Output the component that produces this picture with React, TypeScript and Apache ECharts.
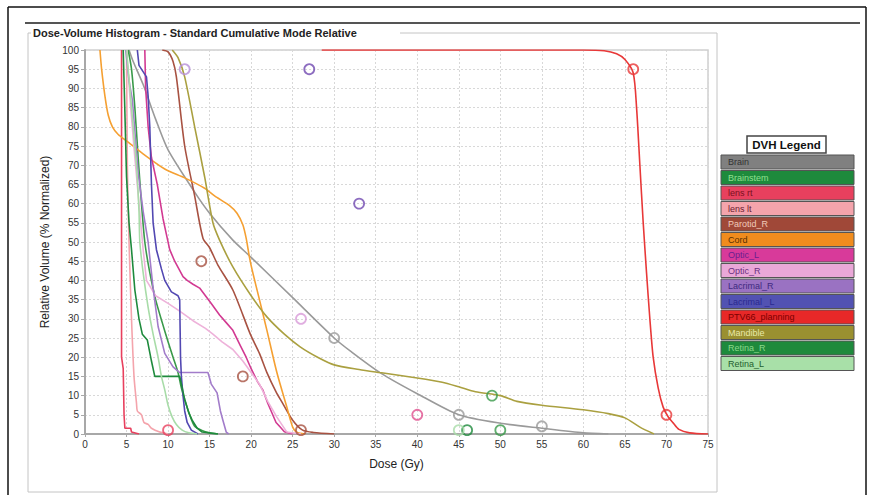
import React, { useEffect, useRef } from "react";
import * as echarts from "echarts";

// ---- Data (Dose in Gy, Relative Volume in %) ----
const structureNames = [
  "Brain", "Brainstem", "lens rt", "lens lt", "Parotid_R", "Cord", "Optic_L",
  "Optic_R", "Lacrimal_R", "Lacrimal _L", "PTV66_planning", "Mandible", "Retina_R", "Retina_L",
];
const lineColors = [
  "#9a9a9a", "#3a9a4a", "#e8405e", "#f4a4ac", "#a85242", "#f5a032", "#d23a92",
  "#eeb2da", "#a27cca", "#5248b2", "#e83838", "#aaa040", "#1e8a3c", "#a8dca8",
];
const legendFill = [
  "#808080", "#1e8a3c", "#e8405e", "#f4a4ac", "#a04838", "#f08c1e", "#d83a9a",
  "#eaa8d8", "#9a72c2", "#5252b2", "#e82828", "#9a9030", "#1e8a3c", "#a8e0a8",
];
const legendText = [
  "#333333", "#90e090", "#7a1020", "#6a2030", "#f0c8b8", "#5a3000", "#6a2090",
  "#6a3080", "#402a80", "#2a2a90", "#7a0000", "#e8e8a8", "#8ad88a", "#1f5f2f",
];
const smoothCurves = [true, true, false, true, true, true, false, false, false, false, true, true, false, true];

const brainData = [[5.3,100],[5.8,97],[7,91],[8.5,82],[10,74],[13.2,63],[15,57.5],[17.8,50.5],[20,46],[25,35.5],[30,25],[32,21.5],[35.5,16],[40,10.5],[45,5],[50,2.8],[55,1.5],[60,0.3],[63,0]];
const brainstemData = [[5.2,100],[5.6,95],[6,85],[6.4,72],[6.8,60],[7.2,50],[7.8,42],[8.5,35],[9.3,29],[10,24],[10.6,20],[11.2,16],[11.6,12],[12,9],[12.6,5],[13.2,2],[14,1],[15,0.3],[16,0]];
const lensRtData = [[4.4,100],[4.4,20],[4.6,17],[4.7,5],[4.8,1.5],[5.5,1.5],[5.6,0.5],[6.5,0]];
const lensLtData = [[5.0,100],[5.1,70],[5.3,50],[5.6,30],[5.9,15],[6.2,8],[6.3,6],[6.8,5],[7.1,3],[7.6,2.5],[8,1.5],[9,0.5],[10,0]];
const parotidData = [[9.3,100],[10,99.5],[10.6,97],[11,93],[12,75],[13.2,62],[14.2,51],[15,48.5],[16,44],[17.8,37.5],[19.9,26],[21,21],[21.9,16],[23,11],[23.8,8],[25,3.6],[26.2,1],[27.5,0.4],[30,0]];
const cordData = [[1.8,100],[2.0,95],[2.4,88],[2.8,83],[3.3,80],[4.0,78],[5.2,76],[7.2,72.6],[9.6,69],[12,66.7],[14.4,64],[15.6,62],[17.4,59.5],[18.3,57.5],[19,54.5],[19.4,51],[19.8,46],[20.2,42],[21,35],[21.9,27],[23.1,16],[24.3,7],[25,1.8],[25.5,0.5],[26.5,0]];
const opticLData = [[7.2,100],[7.3,90],[7.6,80],[8.0,72],[8.7,65],[9.4,56],[9.8,52],[10.2,48],[10.8,45],[11.3,43],[11.8,41],[12.3,40],[13,39],[13.8,38],[14.5,36],[15.2,34],[16.2,31],[17,29],[17.8,27],[18.7,23],[19.4,20],[20,17],[20.8,13.5],[21.4,11.5],[22,8],[22.6,5],[23,3],[23.5,1.8],[24,0.6],[25,0]];
const opticRData = [[5.0,100],[5.5,85],[6,72],[6.5,60],[7,48],[7.4,40],[8.5,36],[10,34],[11.4,32],[13,29.5],[14.5,27.5],[15.4,26],[16.5,24],[17.8,22],[19,19],[20,16],[21,13],[22,8.5],[23.1,4.4],[24.3,0.5],[26,0]];
const lacrimalRData = [[4.9,100],[5.3,92],[5.7,87],[6.0,79],[6.4,68],[7.0,58],[7.6,50],[8.2,38],[8.8,28],[9.6,21],[10.6,17.5],[11.4,16],[14.8,16],[15.2,13],[15.9,10.7],[16.3,6],[16.6,3.6],[17,0.5],[17.3,0]];
const lacrimalLData = [[6.3,100],[6.5,96],[7.4,93],[7.6,88],[7.8,80],[8.0,65],[8.2,55],[8.6,48],[9.2,43],[9.6,40],[10.4,37],[11.2,36],[11.4,35],[11.5,20],[11.6,15],[11.8,10],[12,6],[12.3,3],[12.8,1],[13.6,0]];
const ptvData = [[28.5,100],[60,100],[62.5,99.8],[64,99],[65,97.5],[66,94],[66.4,85],[66.8,70],[67.2,55],[67.6,42],[68,30],[68.4,20],[69,12],[69.6,7],[70.2,4.5],[70.8,2.9],[71.5,1.2],[72.8,0.3],[75,0]];
const mandibleData = [[10.5,100],[11.2,98],[12,93],[13.2,80],[14.4,67],[15.4,55],[16.2,50.5],[17.8,43.5],[20,36],[21.9,30.5],[24,26],[25.9,22.7],[28,20],[30,18],[33,16.8],[35.5,16],[40,14.6],[43,13.5],[45,12.3],[47,11],[50,10],[52,8.5],[55,7.5],[60,6.3],[63,5.3],[65,4.2],[66.8,1.8],[68.5,0]];
const retinaRData = [[4.6,100],[4.8,84],[5.0,67],[5.3,55],[5.6,48],[6.0,37.5],[6.5,30],[6.9,26],[7.5,24.5],[8.0,19],[8.4,15],[11.4,15],[11.7,12],[12,9],[12.5,5.5],[12.9,3.6],[13.5,1.5],[14.1,0.5],[16,0]];
const retinaLData = [[5.0,100],[5.4,90],[5.8,80],[6.2,70],[6.5,58],[6.6,50],[7.0,42],[7.6,33],[8.2,26],[8.8,20],[9.2,15],[9.6,11.5],[10,7.5],[10.5,4.4],[11,2.5],[11.7,1],[12.5,0.3],[13.5,0]];

const curveData = [
  brainData, brainstemData, lensRtData, lensLtData, parotidData, cordData, opticLData,
  opticRData, lacrimalRData, lacrimalLData, ptvData, mandibleData, retinaRData, retinaLData,
];

// Constraint markers (hollow circles), by structure index
const brainMarkers = [[30,25],[45,5],[55,2]];
const brainstemMarkers = [[49,10],[50,1]];
const lensRtMarkers = [[10,1]];
const parotidMarkers = [[14,45],[19,15],[26,1]];
const opticLMarkers = [[40,5]];
const opticRMarkers = [[26,30]];
const lacrimalRMarkers = [[12,95]];
const lacrimalLMarkers = [[27,95],[33,60]];
const ptvMarkers = [[66,95],[70,5]];
const retinaRMarkers = [[46,1]];
const retinaLMarkers = [[45,1]];

const markerSets: [number, number[][]][] = [
  [0, brainMarkers], [1, brainstemMarkers], [2, lensRtMarkers], [4, parotidMarkers],
  [6, opticLMarkers], [7, opticRMarkers], [8, lacrimalRMarkers], [9, lacrimalLMarkers],
  [10, ptvMarkers], [12, retinaRMarkers], [13, retinaLMarkers],
];
const markerColors: Record<number, string> = { 7: "#d89ad8", 8: "#b890d8", 9: "#7048b0", 6: "#e0508e" };

const FONT = "Arial, 'Liberation Sans', sans-serif";

export default function App() {
  const ref = useRef<HTMLDivElement>(null);
  useEffect(() => {
    if (!ref.current) return;
    const chart = echarts.init(ref.current, undefined, { renderer: "svg" });

    const lineSeries = curveData.map((d, i) => ({
      name: structureNames[i],
      type: "line",
      data: d,
      showSymbol: false,
      symbol: "none",
      smooth: smoothCurves[i] ? 0.25 : false,
      lineStyle: { color: lineColors[i], width: 1.6 },
      itemStyle: { color: lineColors[i] },
      z: 2,
    }));
    const scatterSeries = markerSets.map(([idx, pts]) => ({
      name: structureNames[idx] + " constraint",
      type: "scatter",
      data: pts,
      symbol: "circle",
      symbolSize: 10,
      itemStyle: {
        color: "rgba(255,255,255,0)",
        borderColor: markerColors[idx] || lineColors[idx],
        borderWidth: 1.8,
      },
      z: 3,
    }));

    const legendX = 721, legendY = 155, itemH = 15.5, itemW = 133;
    const legendItems: any[] = [];
    structureNames.forEach((n, i) => {
      legendItems.push({
        type: "rect",
        shape: { x: legendX, y: legendY + i * itemH, width: itemW, height: itemH - 1.5 },
        style: { fill: legendFill[i], stroke: "#555", lineWidth: 1 },
      });
      legendItems.push({
        type: "text",
        style: {
          x: legendX + 7, y: legendY + i * itemH + (itemH - 1.5) / 2,
          text: n, fill: legendText[i], fontSize: 9, fontFamily: FONT,
          verticalAlign: "middle", align: "left",
        },
      });
    });

    chart.setOption({
      animation: false,
      backgroundColor: "#ffffff",
      grid: {
        left: 85, top: 50, width: 623, height: 384,
        show: true, borderColor: "#cfcfcf", borderWidth: 1.5, backgroundColor: "#ffffff",
      },
      xAxis: {
        type: "value", min: 0, max: 75, interval: 5,
        name: "Dose (Gy)", nameLocation: "middle", nameGap: 24,
        nameTextStyle: { fontSize: 12, color: "#222", fontFamily: FONT },
        axisLine: { show: true, lineStyle: { color: "#a8a8a8", width: 2 } },
        axisTick: { show: true, length: 3, lineStyle: { color: "#a8a8a8" } },
        axisLabel: { fontSize: 10, color: "#333", margin: 5, fontFamily: FONT },
        splitLine: { show: true, lineStyle: { color: "#d8d8d8", type: [2, 2], width: 1 } },
      },
      yAxis: {
        type: "value", min: 0, max: 100, interval: 5,
        name: "Relative Volume (% Normalized)", nameLocation: "middle", nameGap: 30, nameRotate: 90,
        nameTextStyle: { fontSize: 12, color: "#222", fontFamily: FONT },
        axisLine: { show: true, lineStyle: { color: "#a8a8a8", width: 2 } },
        axisTick: { show: true, length: 4, lineStyle: { color: "#a8a8a8" } },
        axisLabel: { fontSize: 10, color: "#333", margin: 6, fontFamily: FONT },
        splitLine: { show: true, lineStyle: { color: "#d8d8d8", type: [2, 2], width: 1 } },
      },
      series: [...lineSeries, ...scatterSeries],
      graphic: [
        { type: "line", shape: { x1: 8, y1: 7, x2: 866, y2: 7 }, style: { stroke: "#111", lineWidth: 1.5 } },
        { type: "line", shape: { x1: 8, y1: 7, x2: 8, y2: 495 }, style: { stroke: "#111", lineWidth: 1.5 } },
        { type: "line", shape: { x1: 866, y1: 7, x2: 866, y2: 495 }, style: { stroke: "#111", lineWidth: 1.5 } },
        { type: "line", shape: { x1: 25, y1: 23, x2: 860, y2: 23 }, style: { stroke: "#555", lineWidth: 2 } },
        { type: "rect", shape: { x: 28, y: 33, width: 689, height: 459 }, style: { fill: "none", stroke: "#c4c4c4", lineWidth: 1 } },
        { type: "rect", shape: { x: 31, y: 26, width: 369, height: 14 }, style: { fill: "#ffffff" } },
        {
          type: "text",
          style: {
            x: 33, y: 33, text: "Dose-Volume Histogram - Standard Cumulative Mode Relative",
            fontSize: 11, fontWeight: "bold", fill: "#222", fontFamily: FONT, verticalAlign: "middle",
          },
        },
        { type: "rect", shape: { x: 747, y: 136, width: 79, height: 17 }, style: { fill: "#ffffff", stroke: "#444", lineWidth: 1.5 } },
        {
          type: "text",
          style: {
            x: 786.5, y: 144.5, text: "DVH Legend", fontSize: 11.5, fontWeight: "bold",
            fill: "#111", fontFamily: FONT, align: "center", verticalAlign: "middle",
          },
        },
        ...legendItems,
      ],
    });
    return () => chart.dispose();
  }, []);
  return <div ref={ref} style={{ position: "fixed", left: 0, top: 0, width: 873, height: 495 }} />;
}
